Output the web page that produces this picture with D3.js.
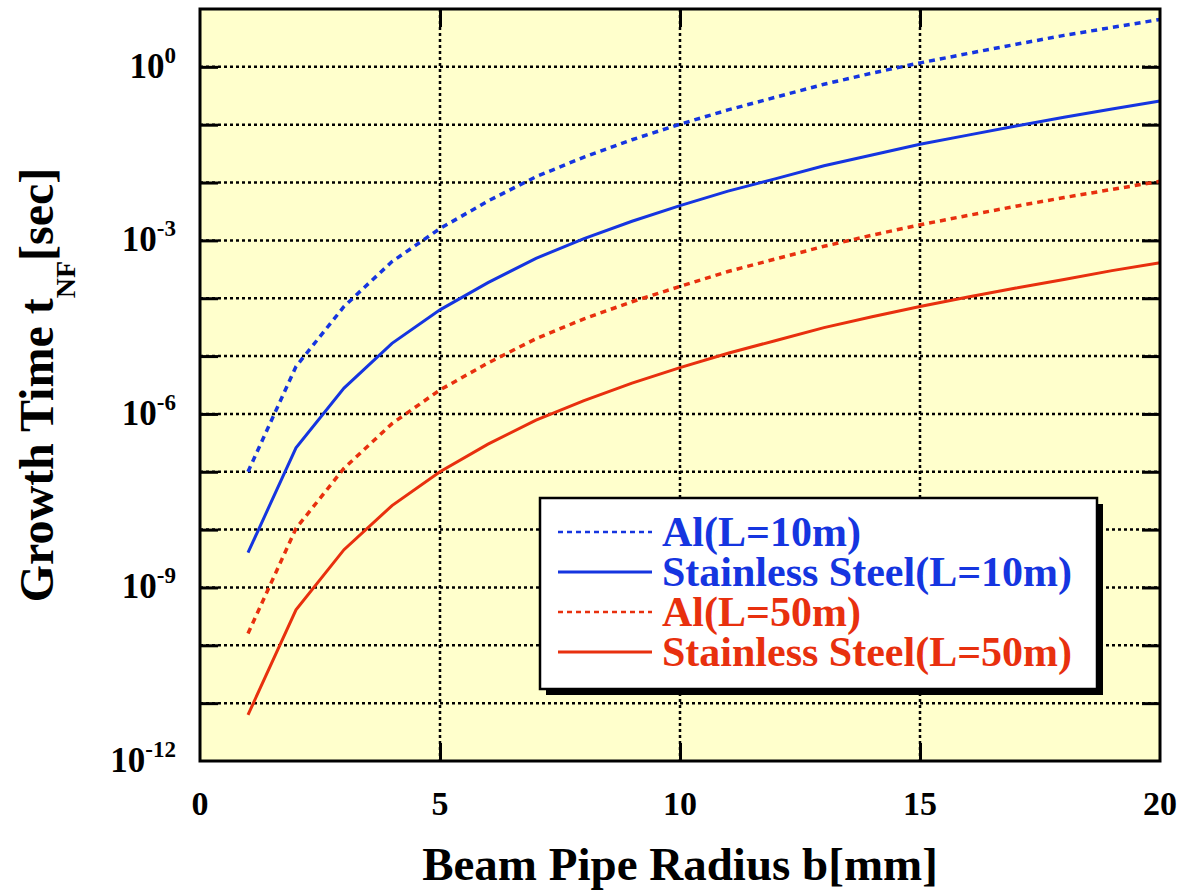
<!DOCTYPE html>
<html>
<head>
<meta charset="utf-8">
<script src="https://cdn.jsdelivr.net/npm/d3@7"></script>
<style>
  body { margin: 0; background: #fff; }
  text { font-family: "Liberation Serif", "Times New Roman", serif; font-weight: bold; }
</style>
</head>
<body>
<svg id="chart"></svg>
<script>
const width = 1182;
const height = 890;
const plotLeft = 200, plotRight = 1160, plotTop = 9, plotBottom = 761;

// beam pipe radius b [mm]
const radius = [1, 2, 3, 4, 5, 6, 7, 8, 9, 10, 11, 12, 13, 14, 15, 16, 17, 18, 19, 20];

// growth time [sec]
const alL10 = [1.0e-7, 6.6e-6, 7.2e-5, 4.3e-4, 1.6e-3, 4.8e-3, 1.26e-2, 2.75e-2, 5.5e-2, 0.102,
               0.18, 0.30, 0.50, 0.78, 1.17, 1.70, 2.45, 3.5, 4.8, 6.6];
const ssL10 = [4.0e-9, 2.6e-7, 2.8e-6, 1.66e-5, 6.3e-5, 1.86e-4, 4.9e-4, 1.07e-3, 2.14e-3, 4.0e-3,
               7.1e-3, 1.17e-2, 1.95e-2, 3.0e-2, 4.6e-2, 6.6e-2, 9.5e-2, 0.135, 0.186, 0.257];
const alL50 = [1.6e-10, 1.05e-8, 1.15e-7, 6.8e-7, 2.6e-6, 7.6e-6, 2.0e-5, 4.4e-5, 8.7e-5, 1.6e-4,
               2.9e-4, 4.8e-4, 7.9e-4, 1.23e-3, 1.86e-3, 2.7e-3, 3.9e-3, 5.5e-3, 7.6e-3, 1.05e-2];
const ssL50 = [6.3e-12, 4.1e-10, 4.5e-9, 2.6e-8, 1.0e-7, 3.0e-7, 7.8e-7, 1.7e-6, 3.4e-6, 6.3e-6,
               1.12e-5, 1.86e-5, 3.1e-5, 4.8e-5, 7.2e-5, 1.05e-4, 1.5e-4, 2.1e-4, 3.0e-4, 4.1e-4];

const seriesNames = ['Al(L=10m)', 'Stainless Steel(L=10m)', 'Al(L=50m)', 'Stainless Steel(L=50m)'];
const seriesValues = [alL10, ssL10, alL50, ssL50];

const xTicks = [0, 5, 10, 15, 20];
const yDecades = [-11, -10, -9, -8, -7, -6, -5, -4, -3, -2, -1, 0];
const yLabelExps = [-12, -9, -6, -3, 0];

const blue = '#1535e0';
const red = '#e8300e';
const colors = [blue, blue, red, red];
const dashed = [true, false, true, false];

const svg = d3.select('#chart').attr('width', width).attr('height', height);

const x = d3.scaleLinear().domain([0, 20]).range([plotLeft, plotRight]);
const y = d3.scaleLog().domain([1e-12, 1e1]).range([plotBottom, plotTop]);

svg.append('rect')
  .attr('x', plotLeft).attr('y', plotTop)
  .attr('width', plotRight - plotLeft).attr('height', plotBottom - plotTop)
  .attr('fill', '#ffffcc');

// dotted grid
const grid = svg.append('g').attr('stroke', '#000').attr('stroke-width', 2.5).attr('stroke-dasharray', '3,3');
grid.selectAll('.hgrid').data(yDecades).enter().append('line')
  .attr('x1', plotLeft).attr('x2', plotRight)
  .attr('y1', d => y(Math.pow(10, d))).attr('y2', d => y(Math.pow(10, d)));
grid.selectAll('.vgrid').data([5, 10, 15]).enter().append('line')
  .attr('y1', plotTop).attr('y2', plotBottom)
  .attr('x1', d => x(d)).attr('x2', d => x(d));

// inward ticks on all four sides
const yTickVals = yDecades.map(d => Math.pow(10, d));
const tickLen = 18;
const axes = [
  svg.append('g').attr('transform', `translate(${plotLeft},0)`).call(d3.axisLeft(y).tickValues(yTickVals).tickSize(-tickLen).tickFormat('')),
  svg.append('g').attr('transform', `translate(${plotRight},0)`).call(d3.axisRight(y).tickValues(yTickVals).tickSize(-tickLen).tickFormat('')),
  svg.append('g').attr('transform', `translate(0,${plotBottom})`).call(d3.axisBottom(x).tickValues([5, 10, 15]).tickSize(-tickLen).tickFormat('')),
  svg.append('g').attr('transform', `translate(0,${plotTop})`).call(d3.axisTop(x).tickValues([5, 10, 15]).tickSize(-tickLen).tickFormat(''))
];
axes.forEach(a => {
  a.select('.domain').remove();
  a.selectAll('.tick line').attr('stroke', '#000').attr('stroke-width', 3);
});

// curves
const line = d3.line().x((d, i) => x(radius[i])).y(d => y(d));
svg.selectAll('.curve').data(seriesValues).enter().append('path')
  .attr('class', 'curve')
  .attr('d', d => line(d))
  .attr('fill', 'none')
  .attr('stroke', (d, i) => colors[i])
  .attr('stroke-width', (d, i) => dashed[i] ? 3.5 : 3)
  .attr('stroke-dasharray', (d, i) => dashed[i] ? '6,5' : null);

// frame
svg.append('rect')
  .attr('x', plotLeft).attr('y', plotTop)
  .attr('width', plotRight - plotLeft).attr('height', plotBottom - plotTop)
  .attr('fill', 'none').attr('stroke', '#000').attr('stroke-width', 3);

// x tick labels
svg.selectAll('.xlab').data(xTicks).enter().append('text')
  .attr('x', d => x(d)).attr('y', 815)
  .attr('text-anchor', 'middle').attr('font-size', 34)
  .text(d => d);

// y tick labels 10^n
const ylab = svg.selectAll('.ylab').data(yLabelExps).enter().append('text')
  .attr('x', 176).attr('y', d => y(Math.pow(10, d)) + 11)
  .attr('text-anchor', 'end').attr('font-size', 35);
ylab.append('tspan').text('10');
ylab.append('tspan').attr('dy', -15).attr('font-size', 23).text(d => d);

// axis titles
svg.append('text')
  .attr('x', 680).attr('y', 880)
  .attr('text-anchor', 'middle').attr('font-size', 47)
  .text('Beam Pipe Radius b[mm]');

const ytitle = svg.append('text')
  .attr('transform', `translate(53,${(plotTop + plotBottom) / 2}) rotate(-90)`)
  .attr('text-anchor', 'middle').attr('font-size', 48);
ytitle.append('tspan').text('Growth Time t');
ytitle.append('tspan').attr('dy', 22).attr('font-size', 28).text('NF');
ytitle.append('tspan').attr('dy', -22).text('[sec]');

// legend
const legend = svg.append('g');
legend.append('rect').attr('x', 546).attr('y', 504).attr('width', 557).attr('height', 191).attr('fill', '#000');
legend.append('rect').attr('x', 540).attr('y', 498).attr('width', 557).attr('height', 191)
  .attr('fill', '#fff').attr('stroke', '#000').attr('stroke-width', 2.5);

const rows = legend.selectAll('.row').data(seriesNames).enter().append('g')
  .attr('transform', (d, i) => `translate(0,${546 + i * 40})`);
rows.append('line')
  .attr('x1', 558).attr('x2', 652).attr('y1', -14).attr('y2', -14)
  .attr('stroke', (d, i) => colors[i])
  .attr('stroke-width', (d, i) => dashed[i] ? 2.5 : 3)
  .attr('stroke-dasharray', (d, i) => dashed[i] ? '5,4' : null);
rows.append('text')
  .attr('x', 662).attr('y', 0)
  .attr('font-size', 42)
  .attr('fill', (d, i) => colors[i])
  .text(d => d);
</script>
</body>
</html>
